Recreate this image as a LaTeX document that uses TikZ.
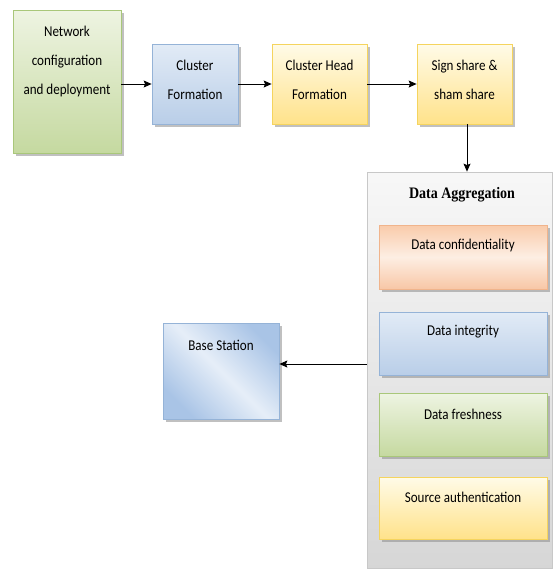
\documentclass[tikz,border=0pt]{standalone}
\usepackage{fontspec}
\setmainfont[FakeStretch=0.87]{Carlito}
\newfontfamily\titlefont[FakeStretch=0.875]{Liberation Serif}
\usetikzlibrary{arrows.meta,shadows}

\definecolor{grnTop}{HTML}{EEF4E2}
\definecolor{grnBot}{HTML}{C5D9A0}
\definecolor{grnLine}{HTML}{A9C77A}
\definecolor{bluTop}{HTML}{E2EBF6}
\definecolor{bluBot}{HTML}{B9CEE8}
\definecolor{bluLine}{HTML}{95B3D7}
\definecolor{bsDark}{HTML}{A9C4E6}
\definecolor{bsLight}{HTML}{E6EEF8}
\definecolor{yelTop}{HTML}{FFFBE8}
\definecolor{yelBot}{HTML}{FFE28A}
\definecolor{yelLine}{HTML}{F5D45E}
\definecolor{orgTop}{HTML}{F9CBAA}
\definecolor{orgMid}{HTML}{FDEEE3}
\definecolor{orgBot}{HTML}{F8C7A6}
\definecolor{orgLine}{HTML}{F0B48C}
\definecolor{aggLine}{HTML}{C8C8C8}

\tikzset{
  box/.style={draw, line width=0.8pt, inner sep=0pt,
    drop shadow={shadow xshift=2.5pt, shadow yshift=-2.5pt, fill=black!45, opacity=0.55}},
  greenbox/.style={box, draw=grnLine, top color=grnTop, bottom color=grnBot},
  bluebox/.style={box, draw=bluLine, top color=bluTop, bottom color=bluBot},
  yellowbox/.style={box, draw=yelLine, top color=yelTop, bottom color=yelBot},
  orangebox/.style={box, draw=orgLine, top color=orgTop, bottom color=orgBot, middle color=orgMid},
  txt/.style={align=center, inner sep=0pt, font=\fontsize{15}{29}\selectfont},
  arr/.style={-{Stealth[length=8pt,width=7pt,inset=1.5pt]}, line width=0.8pt, black}
}

\begin{document}
\begin{tikzpicture}[x=1pt,y=-1pt]
\useasboundingbox (0,0) rectangle (553,570);

% top row of process boxes
\node[greenbox, minimum width=108pt, minimum height=143pt] (net) at (67,81.5) {};
\node[txt] (nett) at (67,61) {Network\\configuration\\and deployment};

\node[bluebox, minimum width=86pt, minimum height=80pt] (cf) at (195,84) {};
\node[txt] (cft) at (195,80) {Cluster\\Formation};

\node[yellowbox, minimum width=95pt, minimum height=80pt] (ch) at (319.5,84) {};
\node[txt] (cht) at (319.5,80) {Cluster Head\\Formation};

\node[yellowbox, minimum width=95pt, minimum height=80pt] (ss) at (464.5,84) {};
\node[txt] (sst) at (464.5,80) {Sign share \&\\sham share};

% data aggregation container
\node[draw=aggLine, line width=0.8pt, top color=black!3, bottom color=black!16,
      minimum width=185pt, minimum height=396pt, inner sep=0pt] (agg) at (459.5,370) {};
\node[inner sep=0pt, font=\titlefont\bfseries\fontsize{16}{18}\selectfont] (aggt) at (462,195) {Data Aggregation};

\node[orangebox, minimum width=168pt, minimum height=64pt] (dc) at (463,257) {};
\node[txt] (dct) at (463,245) {Data confidentiality};

\node[bluebox, minimum width=168pt, minimum height=63pt] (di) at (463,343.5) {};
\node[txt] (dit) at (463,332) {Data integrity};

\node[greenbox, minimum width=168pt, minimum height=63pt] (df) at (463,424.5) {};
\node[txt] (dft) at (463,414) {Data freshness};

\node[yellowbox, minimum width=168pt, minimum height=62pt] (sa) at (463,508) {};
\node[txt] (sat) at (463,497) {Source authentication};

% base station, diagonal shading darker towards two corners
\node[box, draw=bluLine, left color=bsDark, right color=bsDark,
      middle color=bsLight, shading angle=135,
      minimum width=116pt, minimum height=96pt] (bs) at (221,371) {};
\node[txt] (bst) at (221,345) {Base Station};

% connectors
\draw[arr] (net.east |- cf.west) -- (cf.west);
\draw[arr] (cf.east) -- (ch.west);
\draw[arr] (ch.east) -- (ss.west);
\draw[arr] ([xshift=2.5pt]ss.south) -- ([xshift=2.5pt]ss.south |- agg.north);
\draw[arr] ([yshift=7pt]agg.west |- bs.east) -- ([yshift=7pt]bs.east);
\end{tikzpicture}
\end{document}
